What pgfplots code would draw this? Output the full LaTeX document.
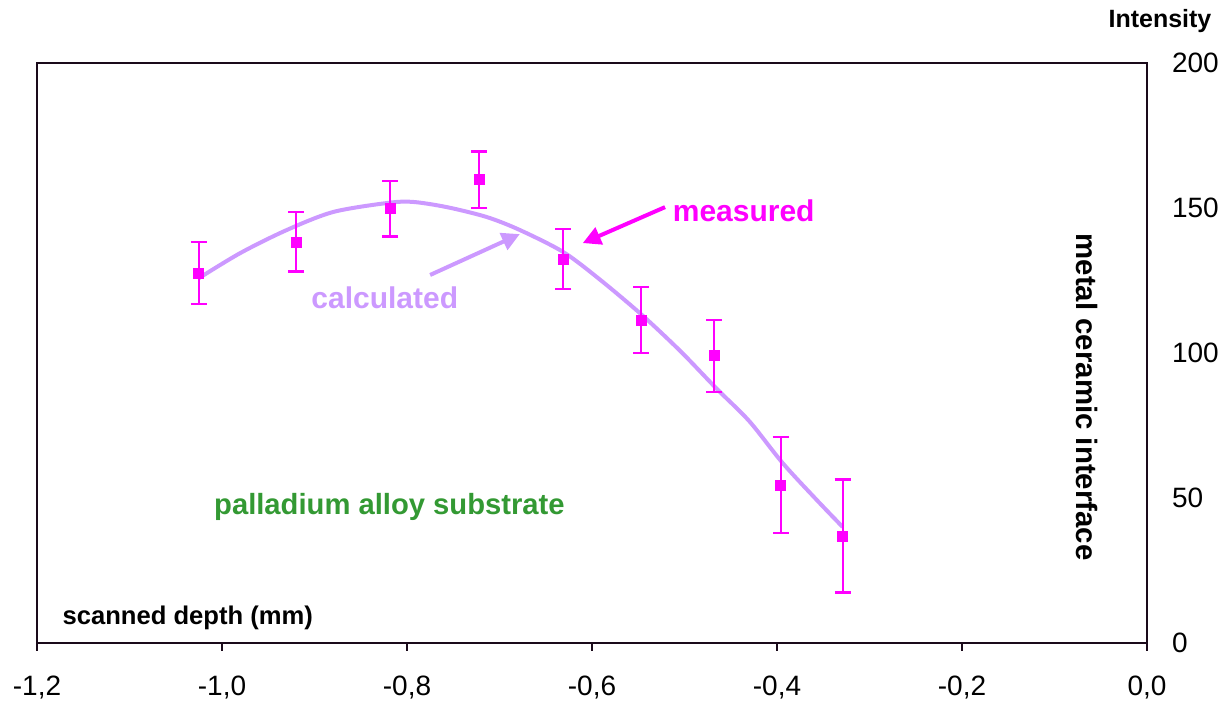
\documentclass[border=0pt]{standalone}
\usepackage{pgfplots}
\pgfplotsset{compat=1.18}
\usepackage{fontspec}
\setmainfont{Liberation Sans}
\usetikzlibrary{arrows.meta}
\definecolor{mag}{HTML}{FF00FF}
\definecolor{lav}{HTML}{CC99FF}
\definecolor{grn}{HTML}{339933}
\definecolor{frame}{HTML}{1A0A1A}
\begin{document}
\begin{tikzpicture}
\begin{axis}[name=ax,
  scale only axis, width=555pt, height=290pt,
  xmin=-1.2, xmax=0, ymin=0, ymax=200,
  clip=false,
  axis line style={frame, line width=1pt},
  xtick={-1.2,-1.0,-0.8,-0.6,-0.4,-0.2,0},
  ytick={0,50,100,150,200},
  yticklabel pos=right,
  xtick pos=bottom,
  tick align=outside,
  x tick style={frame, line width=0.8pt},
  major tick length=4pt,
  y tick style={draw=none},
  xticklabel style={/pgf/number format/use comma, /pgf/number format/fixed, /pgf/number format/fixed zerofill, /pgf/number format/precision=1, /pgf/number format/assume math mode=true, yshift=-9pt},
  yticklabel style={/pgf/number format/assume math mode=true, xshift=5pt},
  tick label style={font=\fontsize{14}{16}\selectfont},
]
% calculated curve
\addplot[lav, line width=2pt, smooth, tension=0.5, no marks] coordinates {
(-1.025,125.8) (-0.98,134.5) (-0.93,142.4) (-0.88,148.6) (-0.822,151.7) (-0.794,152.1)
(-0.757,150.3) (-0.714,146.9) (-0.678,142.4) (-0.631,134.8) (-0.591,125.2) (-0.546,113.1)
(-0.504,100.5) (-0.465,87.6) (-0.43,76.5) (-0.394,62.1) (-0.357,49.3) (-0.329,40)};
% measured
\addplot[only marks, mag, mark=square*, mark size=2.5pt,
  error bars/.cd, y dir=both, y explicit,
  error bar style={mag, line width=1.1pt},
  error mark options={rotate=90, mark size=4pt, mag, line width=1.1pt}]
 coordinates {
(-1.025,127.6) +- (0,10.7)
(-0.920,138.3) +- (0,10.2)
(-0.818,149.7) +- (0,9.5)
(-0.722,159.7) +- (0,9.8)
(-0.631,132.4) +- (0,10.3)
(-0.547,111.4) +- (0,11.3)
(-0.468,99.0) +- (0,12.5)
(-0.396,54.5) +- (0,16.5)
(-0.329,36.9) +- (0,19.5)};
% annotations
\draw[mag, line width=2pt, -{Triangle[length=9pt,width=9pt]}] (axis cs:-0.521,150.3) -- (axis cs:-0.610,137.9);
\draw[lav, line width=2pt, -{Triangle[length=9pt,width=9pt]}] (axis cs:-0.775,126.9) -- (axis cs:-0.678,141.0);
\node[mag, font=\bfseries\fontsize{15}{17}\selectfont] at (axis cs:-0.436,149.0) {measured};
\node[lav, font=\bfseries\fontsize{15}{17}\selectfont] at (axis cs:-0.824,119) {calculated};
\node[grn, font=\bfseries\fontsize{14.6}{17}\selectfont] at (axis cs:-0.819,46.9) {palladium alloy substrate};
\node[black, font=\bfseries\fontsize{12.8}{15}\selectfont] at (axis cs:-1.037,8.6) {scanned depth (mm)};
\node[black, font=\bfseries\fontsize{12.5}{15}\selectfont] at (axis cs:0.014,214.3) {Intensity};
\node[black, rotate=-90, font=\bfseries\fontsize{14.7}{17}\selectfont] at (axis cs:-0.065,84.8) {metal ceramic interface};
\end{axis}
\pgfresetboundingbox
\path[use as bounding box] ([shift={(-18.5pt,-33pt)}]ax.south west) rectangle ([shift={(42.5pt,31.5pt)}]ax.north east);
\end{tikzpicture}
\end{document}
